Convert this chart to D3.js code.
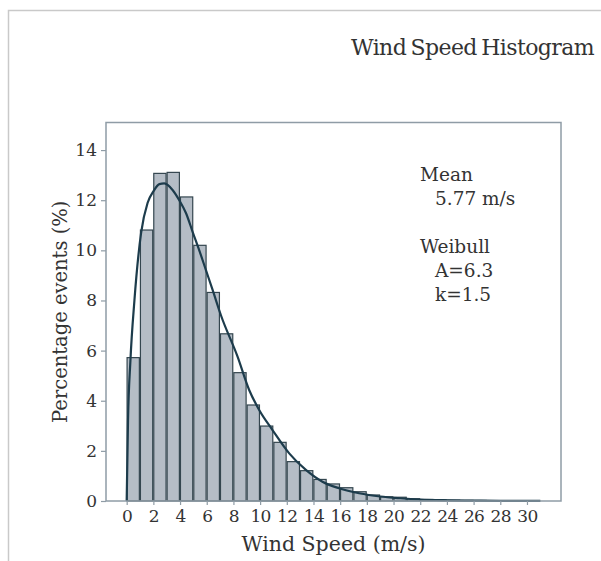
<!DOCTYPE html>
<html>
<head>
    <meta charset="utf-8" />
    <title>Wind Speed Histogram</title>
    <script src="https://cdn.jsdelivr.net/npm/d3@7"></script>
    <style type="text/css">
        body { margin: 0; background: #fff; }
        text { font-family: "DejaVu Serif", serif; fill: #333; }
    </style>
</head>
<body>
<div id="chart"></div>
<script type="text/javascript">
    // histogram bins (m/s) and percentage of events per bin
    var binStart = [0, 1, 2, 3, 4, 5, 6, 7, 8, 9, 10, 11, 12, 13, 14, 15, 16, 17, 18, 19, 20, 21, 22, 23, 24, 25, 26, 27, 28, 29, 30];
    var pct = [5.72, 10.81, 13.07, 13.11, 12.13, 10.2, 8.32, 6.67, 5.12, 3.83, 2.99, 2.34, 1.57, 1.21, 0.86, 0.68, 0.53, 0.37, 0.24, 0.17, 0.15, 0.09, 0.06, 0.05, 0.035, 0.025, 0.02, 0.015, 0.01, 0.008, 0.005];

    // fitted weibull curve
    var fitX = [0, 0.1, 0.28, 0.58, 1.08, 1.57, 2.0, 2.45, 2.82, 3.44, 3.94, 4.45, 4.94, 5.44, 5.94, 6.44, 7.07, 8.31, 9.18, 9.93, 10.93, 12.18, 13.43, 14.67, 15.92, 17.42, 19, 20.5, 22, 24, 26, 28, 31];
    var fitY = [0, 3.2, 5.6, 8.0, 10.7, 11.9, 12.35, 12.64, 12.67, 12.41, 12.0, 11.48, 10.74, 10.0, 9.21, 8.42, 7.4, 5.76, 4.43, 3.63, 2.83, 1.9, 1.24, 0.77, 0.51, 0.31, 0.18, 0.11, 0.06, 0.03, 0.015, 0.007, 0.002];

    var xTicks = [0, 2, 4, 6, 8, 10, 12, 14, 16, 18, 20, 22, 24, 26, 28, 30];
    var yTicks = [0, 2, 4, 6, 8, 10, 12, 14];
    var notes = ["Mean", "  5.77 m/s", "", "Weibull", "  A=6.3", "  k=1.5"];

    var width = 601, height = 561;
    var plot = { left: 106, top: 122.5, right: 561, bottom: 501 };
    var spine = "#8f9ca6";

    var svg = d3.select("#chart").append("svg")
        .attr("width", width)
        .attr("height", height);

    // outer frame (runs off the right and bottom)
    svg.append("rect")
        .attr("x", 8.5).attr("y", 10.5)
        .attr("width", 700).attr("height", 700)
        .attr("fill", "none")
        .attr("stroke", "#c9c9c9")
        .attr("stroke-width", 1.5);

    var x = d3.scaleLinear().domain([-1.55, 32.55]).range([plot.left, plot.right]);
    var y = d3.scaleLinear().domain([0, 15.1]).range([plot.bottom, plot.top]);

    // bars
    svg.selectAll("rect.bar")
        .data(binStart)
        .enter()
        .append("rect")
        .attr("class", "bar")
        .attr("x", function (d) { return x(d + 0.03); })
        .attr("y", function (d, i) { return y(pct[i]); })
        .attr("width", function (d) { return x(d + 0.95) - x(d + 0.03); })
        .attr("height", function (d, i) { return y(0) - y(pct[i]); })
        .attr("fill", "#b5bdc6")
        .attr("stroke", "#34464f")
        .attr("stroke-width", 1.2);

    // fit line
    var line = d3.line()
        .x(function (d) { return x(d[0]); })
        .y(function (d) { return y(d[1]); })
        .curve(d3.curveMonotoneX);

    svg.append("path")
        .datum(d3.zip(fitX, fitY))
        .attr("d", line)
        .attr("fill", "none")
        .attr("stroke", "#1d3c4c")
        .attr("stroke-width", 2.2);

    // spines
    svg.append("rect")
        .attr("x", plot.left).attr("y", plot.top)
        .attr("width", plot.right - plot.left)
        .attr("height", plot.bottom - plot.top)
        .attr("fill", "none")
        .attr("stroke", spine)
        .attr("stroke-width", 1.5);

    // axes
    var xAxis = d3.axisBottom(x).tickValues(xTicks).tickSize(4).tickPadding(5);
    var yAxis = d3.axisLeft(y).tickValues(yTicks).tickSize(5).tickPadding(4);

    var gx = svg.append("g")
        .attr("transform", "translate(0," + plot.bottom + ")")
        .call(xAxis);
    var gy = svg.append("g")
        .attr("transform", "translate(" + plot.left + ",0)")
        .call(yAxis);

    [gx, gy].forEach(function (g) {
        g.select(".domain").remove();
        g.selectAll(".tick line").attr("stroke", spine).attr("stroke-width", 1.2);
        g.selectAll(".tick text")
            .attr("font-family", "DejaVu Serif")
            .attr("font-size", "17px")
            .attr("fill", "#3a3a3a");
    });
    // pull x labels a bit tighter, like the reference
    gx.selectAll(".tick text").attr("letter-spacing", "-0.6px");

    // title and axis labels
    svg.append("text")
        .attr("x", 594).attr("y", 55)
        .attr("text-anchor", "end")
        .attr("font-size", "22px")
        .attr("letter-spacing", "-0.6px")
        .attr("word-spacing", "-2px")
        .text("Wind Speed Histogram");

    svg.append("text")
        .attr("x", (plot.left + plot.right) / 2).attr("y", 551)
        .attr("text-anchor", "middle")
        .attr("font-size", "20.5px")
        .text("Wind Speed (m/s)");

    svg.append("text")
        .attr("transform", "translate(67," + ((plot.top + plot.bottom) / 2) + ") rotate(-90)")
        .attr("text-anchor", "middle")
        .attr("font-size", "19.5px")
        .text("Percentage events (%)");

    // annotation block
    svg.append("text")
        .attr("x", 420).attr("y", 181)
        .attr("font-size", "18.5px")
        .selectAll("tspan")
        .data(notes)
        .enter()
        .append("tspan")
        .attr("x", function (d) { return d.indexOf("  ") === 0 ? 435 : 420; })
        .attr("y", function (d, i) { return 181 + i * 24; })
        .text(function (d) { return d.trim(); });
</script>
</body>
</html>
